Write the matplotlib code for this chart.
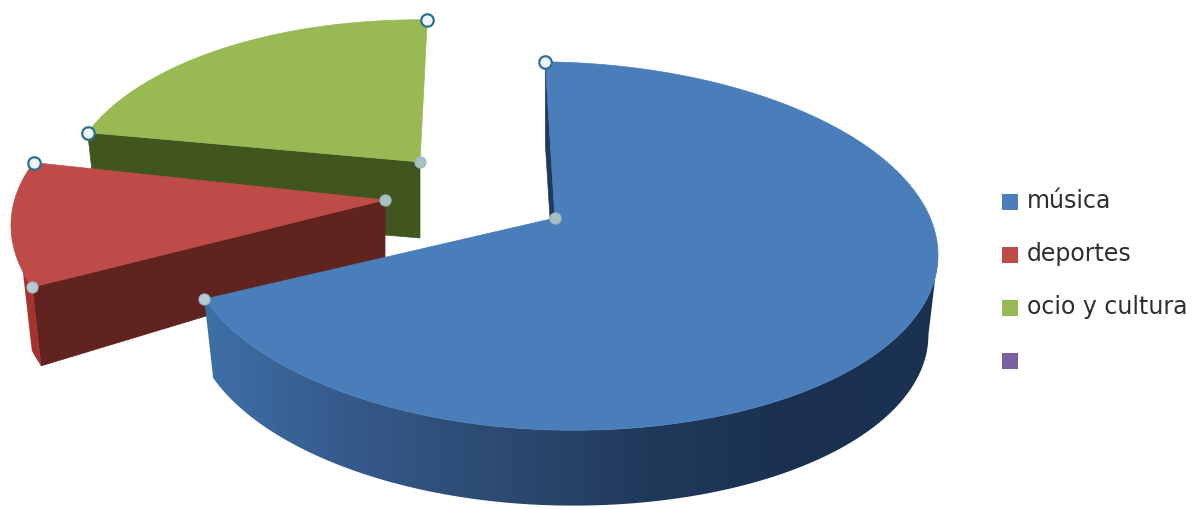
import numpy as np
import matplotlib
matplotlib.use("Agg")
import matplotlib.pyplot as plt
from matplotlib.patches import Polygon
from matplotlib.colors import LinearSegmentedColormap

categories = ["música", "deportes", "ocio y cultura", ""]
values = [70, 11, 19, 0]

TOP = ["#4a7ebb", "#be4b48", "#98b954", "#7d60a0"]
SIDE = ["#1f3a5f", "#60231f", "#41561f", "#3f3050"]
RIM = [None, "#a83230", None, None]

START = -1.5
RX_RIGHT, RX_LEFT, RY = 383, 372, 184
TILT = 0.0235
# ellipse centre and apex of each exploded slice, in pixels
CENTRES = [(555, 246), (383, 234), (437, 204)]
APEX = [(555, 218), (385, 200), (420, 162)]
DEPTH_APEX = [80, 62, 76]
DEPTH_OUT = [80, 80, 76]
SHRINK = 0.975
RIM_SPAN = [999, 5, 0]

fig = plt.figure(figsize=(11.97, 5.09), dpi=100, facecolor="white")
ax = fig.add_axes([0, 0, 1, 1])
ax.set_xlim(0, 1197)
ax.set_ylim(509, 0)
ax.axis("off")

total = sum(values)
edges = START + np.concatenate([[0], np.cumsum(values)]) * 360.0 / total


def arc(c, a0, a1, shrink=1.0, dy=0.0):
    t = np.radians(np.linspace(a0, a1, 200))
    s = np.sin(t)
    dx = shrink * np.where(s >= 0, RX_RIGHT, RX_LEFT) * s
    return np.column_stack([c[0] + dx,
                            c[1] + dy - shrink * RY * np.cos(t) + TILT * dx])


grad = LinearSegmentedColormap.from_list(
    "side", ["#3d70a6", "#35598a", "#2c4a72", "#203a5c", "#1b3050", "#1c3252"])


def draw_slice(i, z):
    c, apex = CENTRES[i], APEX[i]
    a0, a1 = edges[i], edges[i + 1]
    d_a, d_o = DEPTH_APEX[i], DEPTH_OUT[i]
    top_arc = arc(c, a0, a1)
    # visible cut face
    p = arc(c, a0, a0, 1.0)[0]
    q = arc(c, a0, a0, SHRINK, d_o)[0]
    ax.add_patch(Polygon([p, apex, (apex[0], apex[1] + d_a), q],
                         closed=True, fc=SIDE[i], ec=SIDE[i], lw=0.5, zorder=z))
    # rim
    lo, hi = max(a0, 90), min(a1, a0 + RIM_SPAN[i], 275)
    if hi > lo:
        upper = arc(c, lo, hi)
        lower = arc(c, hi, lo, SHRINK, d_o)
        poly = np.vstack([upper, lower])
        if i == 0:
            patch = Polygon(poly, closed=True, fc="none", ec="none", zorder=z)
            ax.add_patch(patch)
            im = ax.imshow(np.linspace(0, 1, 256)[None, :], cmap=grad, aspect="auto",
                           extent=[poly[:, 0].min(), poly[:, 0].max(),
                                   poly[:, 1].max(), poly[:, 1].min()], zorder=z)
            im.set_clip_path(patch)
        else:
            ax.add_patch(Polygon(poly, closed=True, fc=RIM[i] or SIDE[i], ec="none", zorder=z))
    ax.add_patch(Polygon(np.vstack([[apex], top_arc]), closed=True,
                         fc=TOP[i], ec=TOP[i], lw=0.5, zorder=z + 1))
    ax.set_xlim(0, 1197)
    ax.set_ylim(509, 0)


# far slices first
draw_slice(2, 2)
draw_slice(1, 4)
draw_slice(0, 6)

# selection handles
for i, a in [(0, edges[0]), (1, edges[2]), (2, edges[2]), (2, edges[3])]:
    p = arc(CENTRES[i], a, a)[0]
    ax.plot(*p, "o", ms=9, mfc="#eef5f7", mec="#2f6f96", mew=1.6, zorder=10)
for i, a in [(0, edges[1]), (1, edges[1])]:
    p = arc(CENTRES[i], a, a)[0]
    ax.plot(*p, "o", ms=8, mfc="#b5cdd2", mec="#9db8c0", mew=0.8, zorder=10)
for i in range(3):
    ax.plot(*APEX[i], "o", ms=8, mfc="#a9bfc4", mec="#a0b8c0", mew=0.8, zorder=10)

# legend
LEG_Y = [202, 255, 308, 361]
for name, col, y in zip(categories, TOP, LEG_Y):
    ax.plot(1010, y, "s", ms=11, mfc=col, mec=col, mew=0, zorder=10)
    if name:
        ax.text(1027, y - 1, name, fontsize=17, color="#2e2e2e", family="DejaVu Sans",
                va="center", ha="left", zorder=10)

fig.savefig("out.png", dpi=100, facecolor="white")
